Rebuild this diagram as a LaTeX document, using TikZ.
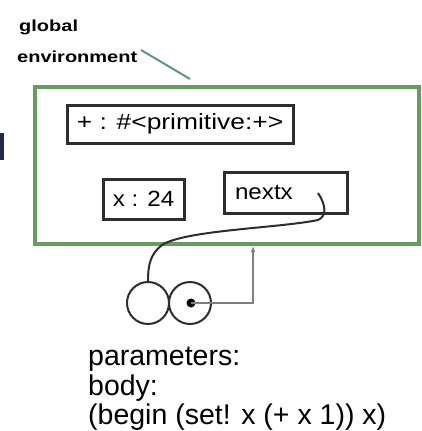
\documentclass[tikz,border=0pt]{standalone}
\usepackage{fontspec}
\setmainfont{Liberation Sans}
\usetikzlibrary{arrows.meta}
\definecolor{envgreen}{RGB}{104,156,92}
\definecolor{tealline}{RGB}{90,150,128}
\definecolor{navymark}{RGB}{32,42,72}
\definecolor{boxline}{RGB}{45,45,45}
\begin{document}
\begin{tikzpicture}[x=1pt,y=-1pt,
  framebox/.style={draw=boxline, line width=3pt, inner sep=0pt, font=\fontsize{22}{24}\selectfont},
  envbox/.style={draw=envgreen, line width=3.5pt, inner sep=0pt},
  envlabel/.style={anchor=base west, inner sep=0pt, font=\bfseries\fontsize{16}{18}\selectfont},
  pairbox/.style={circle, draw=boxline, line width=2pt, minimum size=42pt, inner sep=0pt},
  conn/.style={draw=boxline, line width=2pt},
  ptr/.style={draw=gray, line width=2pt, -{Latex[length=6pt,width=5pt]}},
  bodytext/.style={anchor=base west, inner sep=0pt, font=\fontsize{28.5}{30}\selectfont}]
\useasboundingbox (0,0) rectangle (422,431);
% cut-off mark at the left edge
\fill[navymark] (0,133) rectangle (4,160);
% labels
\node[envlabel] (glob) at (19,31) {\scalebox{1.25}[1]{global}};
\node[envlabel] (envlbl) at (17,62) {\scalebox{1.25}[1]{environment}};
% environment frame
\node[envbox, minimum width=384pt, minimum height=157pt] (env) at (227,165.5) {};
\coordinate (tealstart) at (141,50);
\coordinate (tealend) at (190,79);
\draw[tealline, line width=2pt] (tealstart) -- (tealend);
% bindings
\node[framebox, minimum width=226pt, minimum height=38pt] (prim) at (180,124) {\scalebox{1.2}[1]{+ : \#<primitive:+>}};
\node[framebox, minimum width=81pt, minimum height=40pt] (xval) at (143.5,199) {\scalebox{1.1}[1]{x : 24}};
\node[framebox, minimum width=123pt, minimum height=41pt, text width=101pt, align=left] (nextx) at (285.5,192.5) {\scalebox{1.1}[1]{nextx}};
% procedure object
\node[pairbox] (lc) at (148,303) {};
\node[pairbox] (rc) at (190,303) {};
\node[circle, fill=black, minimum size=9pt, inner sep=0pt] (dot) at (191,303) {};
\coordinate (c1) at (318,193);
\coordinate (envin) at (253,246);
\draw[conn] (c1) .. controls (326,205) and (327,216) .. (318,220)
  .. controls (280,228) and (185,230) .. (162,245)
  .. controls (150,254) and (148,266) .. (lc.north);
\draw[ptr] (dot.center) -| (envin);
% procedure text
\node[bodytext] (params) at (88,365) {parameters:};
\node[bodytext] (body) at (88,395) {body:};
\node[bodytext] (code) at (88,424) {(begin (set! x (+ x 1)) x)};
\end{tikzpicture}
\end{document}
